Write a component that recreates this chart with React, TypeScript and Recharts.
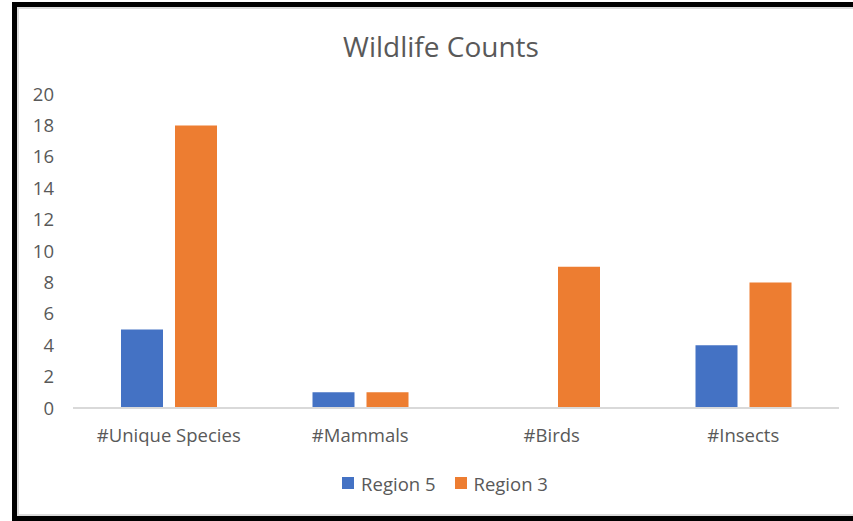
import { BarChart, Bar, XAxis, YAxis, Legend } from "recharts";

const categories = ["#Unique Species", "#Mammals", "#Birds", "#Insects"];
const region5 = [5, 1, 0, 4];
const region3 = [18, 1, 9, 8];
const yTicks = [0, 2, 4, 6, 8, 10, 12, 14, 16, 18, 20];
const seriesNames = ["Region 5", "Region 3"];

const COLORS = ["#4472C4", "#ED7D31"];
const FONT = "'Open Sans', 'Noto Sans', sans-serif";
const TEXT = "#595959";

const data = categories.map((name, i) => ({
  name,
  r5: region5[i],
  r3: region3[i],
}));

function LegendBox() {
  return (
    <div
      style={{
        display: "flex",
        justifyContent: "center",
        alignItems: "center",
        height: 30,
        fontFamily: FONT,
        fontSize: 18.5,
        color: TEXT,
      }}
    >
      {seriesNames.map((n, i) => (
        <span
          key={n}
          style={{ display: "flex", alignItems: "center", marginLeft: i ? 19 : 0 }}
        >
          <span
            style={{ width: 12, height: 12, background: COLORS[i], marginRight: 7 }}
          />
          {n}
        </span>
      ))}
    </div>
  );
}

export default function App() {
  return (
    <div
      style={{
        position: "absolute",
        left: 0,
        top: 0,
        width: 853,
        height: 521,
        overflow: "hidden",
        background: "#fff",
      }}
    >
      {/* screenshot frame */}
      <div
        style={{
          position: "absolute",
          left: 12,
          top: 2,
          width: 880,
          height: 519,
          boxSizing: "border-box",
          border: "5px solid #000",
        }}
      >
        <div
          style={{
            position: "absolute",
            left: 0,
            top: 0,
            right: 0,
            bottom: 0,
            border: "2px solid #dcdcdc",
          }}
        />
      </div>

      <div
        style={{
          position: "absolute",
          left: 0,
          top: 32,
          width: 882,
          textAlign: "center",
          fontFamily: FONT,
          fontSize: 28,
          lineHeight: "28px",
          color: TEXT,
        }}
      >
        Wildlife Counts
      </div>

      <div style={{ position: "absolute", left: 0, top: 0 }}>
        <BarChart
          width={853}
          height={521}
          data={data}
          margin={{ top: 94, right: 14, left: 0, bottom: 23 }}
          barSize={42}
          barGap={12}
        >
          <XAxis
            dataKey="name"
            height={60}
            axisLine={{ stroke: "#d9d9d9", strokeWidth: 2 }}
            tickLine={false}
            tickSize={0}
            tickMargin={21}
            tick={{ fill: TEXT, fontSize: 18.5, fontFamily: FONT }}
            interval={0}
          />
          <YAxis
            width={73}
            domain={[0, 20]}
            ticks={yTicks}
            axisLine={false}
            tickLine={false}
            tickSize={0}
            tickMargin={19}
            tick={{ fill: TEXT, fontSize: 18.5, fontFamily: FONT }}
          />
          <Legend
            verticalAlign="bottom"
            content={<LegendBox />}
            wrapperStyle={{ left: 0, width: 890 }}
          />
          <Bar dataKey="r5" name={seriesNames[0]} fill={COLORS[0]} isAnimationActive={false} />
          <Bar dataKey="r3" name={seriesNames[1]} fill={COLORS[1]} isAnimationActive={false} />
        </BarChart>
      </div>
    </div>
  );
}
